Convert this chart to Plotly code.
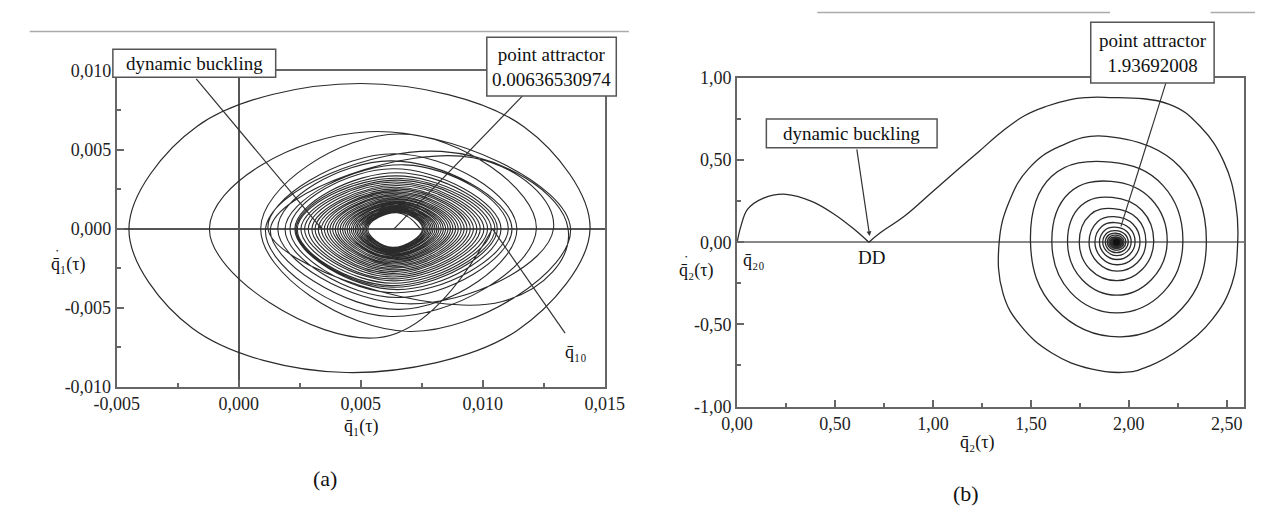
import plotly.graph_objects as go

W, H = 1275, 523

# ---------------- Panel (a) data (q1 phase trajectory), units of 1e-3 ----------------
# outermost closed loop (right, bottom-right, bottom, bottom-left, left, top-left, top, top-right, right)
a_outer_q = [14.4, 11.4, 4.4, -1.9, -4.5, -1.7, 5.0, 11.7, 14.4]
a_outer_v = [0.0, -6.45, -9.1, -6.3, 0.0, 6.5, 9.2, 6.45, 0.0]
# trajectory from the initial point q10: bottom -> left extreme -> top -> right extreme per loop
a_q10_q = 10.4
a_bot_q = [5.7, 7.0, 6.2, 10.8, 6.6, 6.9, 6.5, 6.4, 6.5, 6.3,
           6.25, 6.3, 6.35, 6.25, 6.3, 6.35, 6.25, 6.3, 6.3, 6.25, 6.3, 6.35, 6.3, 6.25, 6.3,
           6.3, 6.35, 6.3, 6.25, 6.3, 6.3, 6.35, 6.3, 6.3, 6.25, 6.3, 6.3, 6.35, 6.3, 6.3]
a_bot_v = [-6.9, -6.5, -5.55, -4.6, -5.1, -4.75, -4.35, -4.05, -3.85, -3.7,
           -3.6, -3.45, -3.3, -3.17, -3.05, -2.93, -2.82, -2.71, -2.6, -2.5, -2.41, -2.32, -2.23, -2.15, -2.07,
           -1.99, -1.91, -1.84, -1.77, -1.7, -1.64, -1.58, -1.52, -1.46, -1.41, -1.36, -1.31, -1.26, -1.21, -1.17]
a_left_q = [-1.2, 0.9, 1.1, 1.2, 1.3, 1.6, 1.9, 2.1, 2.3, 2.35,
            2.4, 2.55, 2.7, 2.85, 3.0, 3.13, 3.26, 3.39, 3.51, 3.63, 3.74, 3.85, 3.96, 4.06, 4.16,
            4.26, 4.35, 4.44, 4.53, 4.61, 4.69, 4.77, 4.84, 4.91, 4.98, 5.05, 5.11, 5.17, 5.23, 5.29]
a_top_q = [5.3, 6.6, 8.3, 6.4, 9.6, 6.2, 6.8, 6.3, 6.5,
           6.45, 6.5, 6.55, 6.45, 6.5, 6.55, 6.45, 6.5, 6.55, 6.45, 6.5, 6.55, 6.45, 6.5, 6.5,
           6.55, 6.45, 6.5, 6.5, 6.55, 6.45, 6.5, 6.5, 6.45, 6.5, 6.5, 6.45, 6.5, 6.45, 6.5, 6.5]
a_top_v = [6.15, 6.0, 4.9, 4.75, 4.5, 4.3, 4.05, 3.8, 3.55,
           3.35, 3.2, 3.08, 2.96, 2.85, 2.74, 2.63, 2.53, 2.43, 2.34, 2.25, 2.16, 2.08, 2.0, 1.92,
           1.85, 1.78, 1.71, 1.64, 1.58, 1.52, 1.46, 1.4, 1.35, 1.3, 1.25, 1.2, 1.15, 1.1, 1.06, 1.02]
a_right_q = [13.6, 12.2, 13.5, 11.4, 12.9, 11.2, 11.05, 10.75, 10.6,
             10.5, 10.35, 10.2, 10.05, 9.9, 9.76, 9.62, 9.49, 9.36, 9.24, 9.12, 9.0, 8.89, 8.78, 8.68,
             8.58, 8.48, 8.39, 8.3, 8.21, 8.13, 8.05, 7.97, 7.9, 7.83, 7.76, 7.7, 7.64, 7.58, 7.53]
a_end = (7.45, 0.0)
a_attractor = 0.00636530974
a_buckling_q = 0.0034

a_xtick_vals = [-0.005, 0.0, 0.005, 0.010, 0.015]
a_xtick_text = ["-0,005", "0,000", "0,005", "0,010", "0,015"]
a_ytick_vals = [-0.010, -0.005, 0.0, 0.005, 0.010]
a_ytick_text = ["-0,010", "-0,005", "0,000", "0,005", "0,010"]

# ---------------- Panel (b) data (q2 phase trajectory) ----------------
b_arc_q = [0.0, 0.02, 0.053, 0.135, 0.25, 0.381, 0.496, 0.595, 0.673]
b_arc_v = [0.0, 0.10, 0.20, 0.269, 0.292, 0.249, 0.171, 0.082, 0.0]
b_out_q = [0.673, 0.726, 0.857, 0.989, 1.12, 1.235, 1.35, 1.465, 1.58, 1.696, 1.777, 1.877,
           2.207, 2.366, 2.486, 2.546, 2.556, 2.526, 2.426, 2.266, 2.107, 1.987, 1.807, 1.607,
           1.448, 1.358, 1.338, 1.39, 1.49, 1.65]
b_out_v = [0.0, 0.053, 0.161, 0.298, 0.435, 0.553, 0.671, 0.769, 0.828, 0.867, 0.88, 0.882,
           0.84, 0.703, 0.488, 0.234, 0.0, -0.254, -0.469, -0.645, -0.752, -0.791, -0.771, -0.674,
           -0.508, -0.313, 0.0, 0.25, 0.45, 0.585]
# inner rings: top, top-right, right, bottom-right, bottom, bottom-left, left, top-left
b_top_q = [1.887, 1.907, 1.91, 1.915, 1.92, 1.925, 1.928, 1.93, 1.932, 1.933, 1.934, 1.935, 1.935, 1.936, 1.936, 1.936]
b_top_v = [0.645, 0.488, 0.371, 0.273, 0.205, 0.156, 0.12, 0.092, 0.071, 0.055, 0.043, 0.033, 0.026, 0.02, 0.015, 0.011]
b_tr_q = [2.26, 2.175, 2.115, 2.068, 2.043, 2.022, 2.004, 1.99, 1.979, 1.970, 1.964, 1.959, 1.955, 1.952, 1.949, 1.947]
b_tr_v = [0.46, 0.345, 0.262, 0.193, 0.145, 0.11, 0.085, 0.065, 0.05, 0.039, 0.03, 0.023, 0.018, 0.014, 0.011, 0.008]
b_right_q = [2.396, 2.276, 2.196, 2.127, 2.087, 2.057, 2.032, 2.012, 1.997, 1.985, 1.976, 1.969, 1.963, 1.958, 1.954, 1.951]
b_br_q = [2.27, 2.175, 2.115, 2.068, 2.043, 2.022, 2.004, 1.99, 1.979, 1.970, 1.964, 1.959, 1.955, 1.952, 1.949, 1.947]
b_br_v = [-0.405, -0.305, -0.228, -0.166, -0.125, -0.097, -0.074, -0.057, -0.045, -0.035, -0.027, -0.021, -0.016, -0.013, -0.01, -0.007]
b_bot_q = [1.957, 1.937, 1.94, 1.94, 1.94, 1.94, 1.939, 1.938, 1.938, 1.937, 1.937, 1.937, 1.937, 1.937, 1.937, 1.937]
b_bot_v = [-0.576, -0.43, -0.322, -0.234, -0.176, -0.137, -0.105, -0.081, -0.063, -0.049, -0.038, -0.03, -0.023, -0.018, -0.014, -0.01]
b_bl_q = [1.625, 1.703, 1.762, 1.803, 1.842, 1.862, 1.878, 1.889, 1.897, 1.904, 1.909, 1.914, 1.918, 1.921, 1.924, 1.926]
b_bl_v = [-0.405, -0.305, -0.228, -0.166, -0.125, -0.097, -0.074, -0.057, -0.045, -0.035, -0.027, -0.021, -0.016, -0.013, -0.01, -0.007]
b_left_q = [1.498, 1.607, 1.687, 1.747, 1.797, 1.827, 1.85, 1.867, 1.88, 1.89, 1.898, 1.905, 1.91, 1.915, 1.919, 1.922]
b_tl_q = [1.605, 1.695, 1.758, 1.803, 1.842, 1.863, 1.879, 1.89, 1.898, 1.905, 1.91, 1.915, 1.919, 1.922, 1.925, 1.927]
b_tl_v = [0.40, 0.30, 0.225, 0.168, 0.127, 0.098, 0.075, 0.058, 0.045, 0.035, 0.027, 0.021, 0.016, 0.013, 0.01, 0.007]
b_attractor = 1.93692008
b_dd_q = 0.677

b_xtick_vals = [0.0, 0.5, 1.0, 1.5, 2.0, 2.5]
b_xtick_text = ["0,00", "0,50", "1,00", "1,50", "2,00", "2,50"]
b_ytick_vals = [-1.0, -0.5, 0.0, 0.5, 1.0]
b_ytick_text = ["-1,00", "-0,50", "0,00", "0,50", "1,00"]

# ---------------- build trajectories ----------------
aq, av = [a_q10_q], [0.0]
for i in range(len(a_bot_q)):
    aq += [a_bot_q[i], a_left_q[i], a_top_q[i]]
    av += [a_bot_v[i], 0.0, a_top_v[i]]
    if i < len(a_right_q):
        aq.append(a_right_q[i]); av.append(0.0)
aq.append(a_end[0]); av.append(a_end[1])
aq = [v * 1e-3 for v in aq]
av = [v * 1e-3 for v in av]
oq = [v * 1e-3 for v in a_outer_q]
ov = [v * 1e-3 for v in a_outer_v]

bq, bv = list(b_out_q), list(b_out_v)
for i in range(len(b_top_q)):
    bq += [b_top_q[i], b_tr_q[i], b_right_q[i], b_br_q[i], b_bot_q[i], b_bl_q[i], b_left_q[i], b_tl_q[i]]
    bv += [b_top_v[i], b_tr_v[i], 0.0, b_br_v[i], b_bot_v[i], b_bl_v[i], 0.0, b_tl_v[i]]
bq.append(b_attractor); bv.append(0.0)

LINE = "#2b2b2b"
AX = "#666666"
FONT = "Times New Roman, Liberation Serif, DejaVu Serif, serif"

fig = go.Figure()
fig.add_trace(go.Scatter(x=oq, y=ov, mode="lines", xaxis="x", yaxis="y",
                         line=dict(color=LINE, width=1.2, shape="spline", smoothing=1.0),
                         hoverinfo="skip", showlegend=False))
fig.add_trace(go.Scatter(x=aq, y=av, mode="lines", xaxis="x", yaxis="y",
                         line=dict(color=LINE, width=1.1, shape="spline", smoothing=1.3),
                         hoverinfo="skip", showlegend=False))
fig.add_trace(go.Scatter(x=b_arc_q, y=b_arc_v, mode="lines", xaxis="x2", yaxis="y2",
                         line=dict(color=LINE, width=1.3, shape="spline", smoothing=1.0),
                         hoverinfo="skip", showlegend=False))
fig.add_trace(go.Scatter(x=bq, y=bv, mode="lines", xaxis="x2", yaxis="y2",
                         line=dict(color=LINE, width=1.3, shape="spline", smoothing=1.2),
                         hoverinfo="skip", showlegend=False))
fig.add_trace(go.Scatter(x=[b_attractor], y=[0.0], mode="markers", xaxis="x2", yaxis="y2",
                         marker=dict(color="#111", size=7), hoverinfo="skip", showlegend=False))


def axis_common():
    return dict(showline=True, linecolor=AX, linewidth=2, mirror=True,
                ticks="inside", ticklen=7, tickwidth=1.5, tickcolor=AX,
                showgrid=False, tickmode="array",
                tickfont=dict(family=FONT, size=18, color="#222"))


xa = axis_common()
xa.update(domain=[97 / W, 602 / W], range=[-0.005, 0.015], anchor="y",
          tickvals=a_xtick_vals, ticktext=a_xtick_text,
          zeroline=True, zerolinecolor="#555", zerolinewidth=2,
          minor=dict(tickmode="linear", tick0=-0.005, dtick=0.0025, ticks="inside",
                     ticklen=4, tickwidth=1.5, tickcolor=AX))
ya = axis_common()
ya.update(domain=[(H - 391.7) / H, (H - 63.3) / H], range=[-0.010, 0.010], anchor="x",
          tickvals=a_ytick_vals, ticktext=a_ytick_text,
          zeroline=True, zerolinecolor="#555", zerolinewidth=2,
          minor=dict(tickmode="linear", tick0=-0.010, dtick=0.0025, ticks="inside",
                     ticklen=4, tickwidth=1.5, tickcolor=AX))
xb = axis_common()
xb.update(domain=[739 / W, 1264 / W], range=[0, 2.59], anchor="y2",
          tickvals=b_xtick_vals, ticktext=b_xtick_text, zeroline=False,
          minor=dict(tickmode="linear", tick0=0, dtick=0.25, ticks="inside",
                     ticklen=4, tickwidth=1.5, tickcolor=AX))
yb = axis_common()
yb.update(domain=[(H - 412.3) / H, (H - 70.7) / H], range=[-1, 1], anchor="x2",
          tickvals=b_ytick_vals, ticktext=b_ytick_text,
          zeroline=True, zerolinecolor="#888", zerolinewidth=1.5,
          minor=dict(tickmode="linear", tick0=-1, dtick=0.25, ticks="inside",
                     ticklen=4, tickwidth=1.5, tickcolor=AX))


def px(x):
    return x / W


def py(y):
    return 1 - y / H


# pixel -> data helpers for leader line anchors
def a_dx(x):
    return -0.005 + (x - 97) / (602 - 97) * 0.020


def a_dy(y):
    return 0.010 - (y - 63.3) / (391.7 - 63.3) * 0.020


def b_dx(x):
    return (x - 739) / (1264 - 739) * 2.59


def b_dy(y):
    return 1.0 - (y - 70.7) / (412.3 - 70.7) * 2.0


shapes = []
# leader lines
shapes.append(dict(type="line", xref="x", yref="y", x0=a_dx(517), y0=a_dy(89.3),
                   x1=a_attractor, y1=0, line=dict(color="#333", width=1.2)))
shapes.append(dict(type="line", xref="x", yref="y", x0=a_q10_q * 1e-3, y0=0,
                   x1=a_dx(561), y1=a_dy(336), line=dict(color="#333", width=1.2)))
shapes.append(dict(type="line", xref="x2", yref="y2", x0=b_dx(1182.7), y0=b_dy(76),
                   x1=1.96, y1=0.097, line=dict(color="#333", width=1.2)))
# label boxes
for (x0, y0, x1, y1) in [(93, 40.7, 261.5, 70), (480, 28.3, 614, 89.3),
                         (769.3, 113.3, 946, 143.3), (1105, 12.7, 1232.7, 76)]:
    shapes.append(dict(type="rect", xref="paper", yref="paper",
                       x0=px(x0), x1=px(x1), y0=py(y1), y1=py(y0),
                       fillcolor="white", line=dict(color="#555", width=1.5), layer="above"))
# page rule lines at the top
for (x0, x1, y) in [(7, 627, 22.3), (822, 1125, 2.7), (1229, 1275, 2.7)]:
    shapes.append(dict(type="line", xref="paper", yref="paper", x0=px(x0), x1=px(x1),
                       y0=py(y), y1=py(y), line=dict(color="#aaa", width=1.5)))

ann = []


def text(x, y, s, size=19):
    ann.append(dict(x=px(x), y=py(y), xref="paper", yref="paper", text=s, showarrow=False,
                    xanchor="center", yanchor="middle",
                    font=dict(family=FONT, size=size, color="#111")))


text(177.3, 55.3, "dynamic buckling")
text(547, 58.8, "point attractor<br>0.00636530974")
text(857.7, 128.3, "dynamic buckling")
text(1169, 44.3, "point attractor<br>1.93692008")
text(878, 257, "DD", 19)
text(756, 260, "q\u0304\u2082\u2080", 18)
text(572, 356, "q\u0304\u2081\u2080", 18)
text(350, 433, "q\u0304\u2081(\u03c4)", 18)
text(988, 450, "q\u0304\u2082(\u03c4)", 18)
text(47, 265, "q\u0304\u2081(\u03c4)", 18)
text(697, 271, "q\u0304\u2082(\u03c4)", 18)
text(35.5, 251, "\u2022", 7)
text(686.5, 257, "\u2022", 7)
text(313, 487, "(a)", 22)
text(976, 503, "(b)", 22)

# arrows
ann.append(dict(x=a_buckling_q, y=0, xref="x", yref="y", ax=a_dx(178), ay=a_dy(70),
                axref="x", ayref="y", text="", showarrow=True, arrowhead=2, arrowsize=0.6,
                arrowwidth=1.2, arrowcolor="#333"))
ann.append(dict(x=b_dd_q, y=0.038, xref="x2", yref="y2", ax=b_dx(862.7), ay=b_dy(143.3),
                axref="x2", ayref="y2", text="", showarrow=True, arrowhead=2, arrowsize=0.8,
                arrowwidth=1.2, arrowcolor="#333"))

fig.update_layout(width=W, height=H, margin=dict(l=0, r=0, t=0, b=0),
                  paper_bgcolor="white", plot_bgcolor="white",
                  xaxis=xa, yaxis=ya, xaxis2=xb, yaxis2=yb,
                  shapes=shapes, annotations=ann,
                  font=dict(family=FONT, size=18, color="#222"))

fig.write_html("out.html")
